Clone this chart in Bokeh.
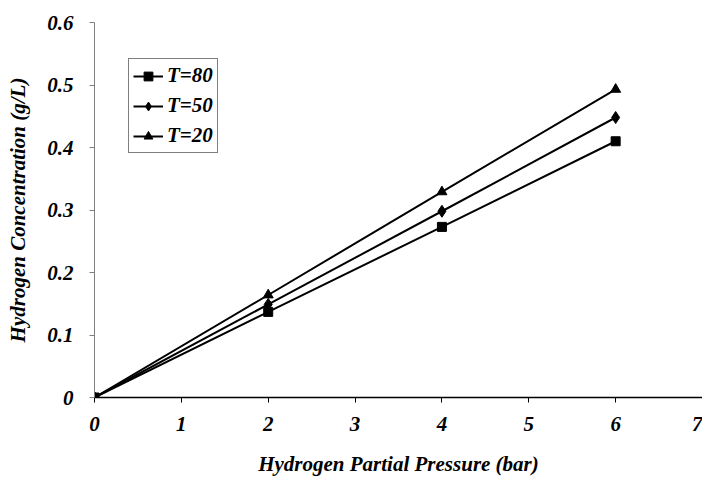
from bokeh.plotting import figure
from bokeh.models import Range1d, FixedTicker, Legend, LegendItem
from bokeh.embed import file_html
from bokeh.resources import INLINE

pressure = [0, 2, 4, 6]
t80 = [0, 0.137, 0.273, 0.410]
t50 = [0, 0.149, 0.298, 0.448]
t20 = [0, 0.164, 0.329, 0.493]
series_names = ["T=80", "T=50", "T=20"]
x_ticks = [0, 1, 2, 3, 4, 5, 6, 7]
y_ticks = [0, 0.1, 0.2, 0.3, 0.4, 0.5, 0.6]

FONT = "Liberation Serif"
FS = "21px"

p = figure(width=702, height=480, output_backend="svg", toolbar_location=None,
           x_range=Range1d(0, 7), y_range=Range1d(0, 0.6),
           min_border_left=94, min_border_right=0, min_border_top=22, min_border_bottom=83)
p.outline_line_color = None
p.grid.visible = False
p.background_fill_color = "white"
p.border_fill_color = "white"

markers = ["square", "diamond", "triangle"]
sizes = [9, 12, 10]
items = []
for name, ys, m, s in zip(series_names, [t80, t50, t20], markers, sizes):
    r1 = p.line(pressure, ys, line_color="black", line_width=2)
    r2 = p.scatter(pressure, ys, marker=m, size=s, fill_color="black", line_color="black")
    items.append(LegendItem(label=name, renderers=[r1, r2]))

legend = Legend(items=items, location=(34, 244))
legend.border_line_color = "black"
legend.border_line_width = 1
legend.label_text_font = FONT
legend.label_text_font_style = "bold italic"
legend.label_text_font_size = FS
legend.label_text_color = "black"
legend.glyph_width = 30
legend.glyph_height = 22
legend.spacing = 5
legend.padding = 4
legend.margin = 0
legend.label_standoff = 4
legend.background_fill_alpha = 1
p.add_layout(legend)

for ax in (p.xaxis[0], p.yaxis[0]):
    ax.major_label_text_font = FONT
    ax.major_label_text_font_style = "bold italic"
    ax.major_label_text_font_size = FS
    ax.major_label_text_color = "black"
    ax.axis_label_text_font = FONT
    ax.axis_label_text_font_style = "bold italic"
    ax.axis_label_text_font_size = FS
    ax.axis_label_text_color = "black"
    ax.minor_tick_line_color = None
    ax.major_tick_in = 0
    ax.major_tick_out = 5

p.xaxis.ticker = FixedTicker(ticks=x_ticks)
p.yaxis.ticker = FixedTicker(ticks=y_ticks)
p.xaxis.major_label_overrides = {0: "0", 1: "1", 2: "2", 3: "3", 4: "4", 5: "5", 6: "6", 7: "7"}
p.yaxis.major_label_overrides = {0: "0", 0.1: "0.1", 0.2: "0.2", 0.3: "0.3", 0.4: "0.4", 0.5: "0.5", 0.6: "0.6"}

p.xaxis.axis_label = "Hydrogen Partial Pressure (bar)"
p.yaxis.axis_label = "Hydrogen Concentration (g/L)"
p.xaxis.axis_line_color = "black"
p.xaxis.axis_line_width = 1.5
p.yaxis.axis_line_color = "#808080"
p.yaxis.major_tick_line_color = "#808080"
p.xaxis.major_tick_line_color = "black"
p.xaxis.major_label_standoff = 14
p.yaxis.major_label_standoff = 16
p.xaxis.axis_label_standoff = 18
p.yaxis.axis_label_standoff = 14

open("out.html", "w").write(file_html(p, INLINE))
